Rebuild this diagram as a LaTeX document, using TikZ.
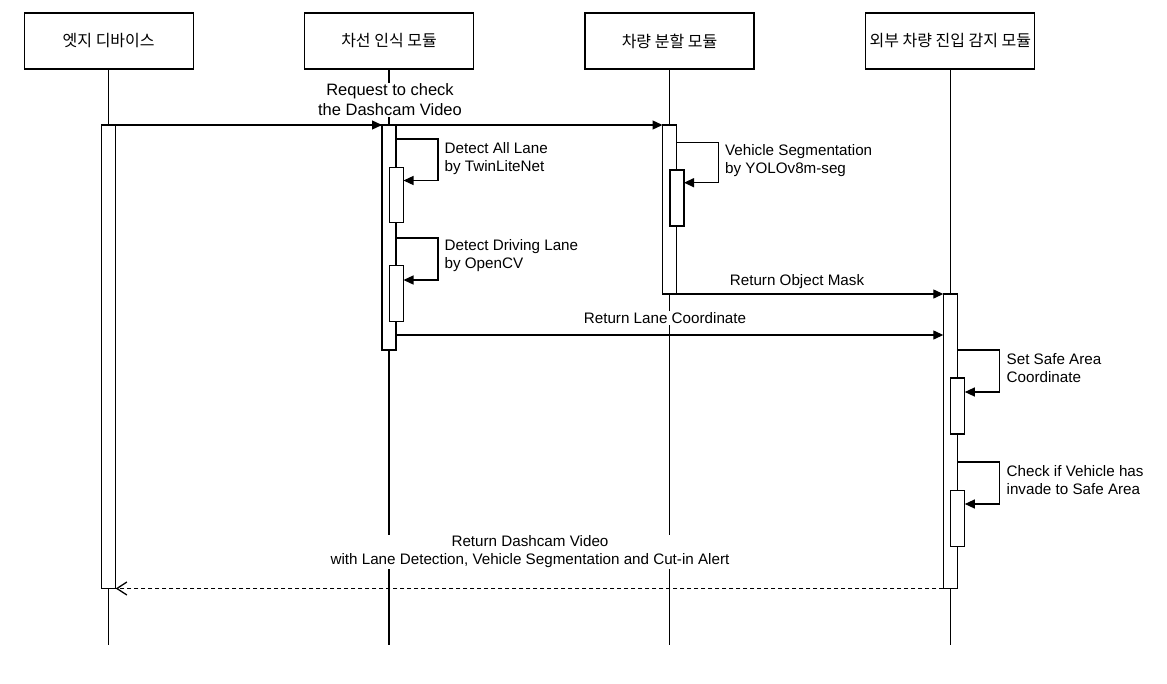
\documentclass[tikz,border=0pt]{standalone}
\usepackage{fontspec}
\setmainfont{Liberation Sans}
\newfontfamily\kor{Noto Sans CJK KR}
\usetikzlibrary{arrows.meta}

\begin{document}
\begin{tikzpicture}[%
	x=1pt, y=-1pt,
	line width=1.3pt,
	header/.style = {draw, rectangle, minimum width=169pt, minimum height=56pt, outer sep=0pt, font=\kor\fontsize{16}{19}\selectfont},
	act/.style = {draw, rectangle, fill=white, anchor=north, minimum width=14pt, inner sep=0pt, outer sep=0pt},
	msg/.style = {-{Triangle[length=10pt,width=9pt]}},
	reply/.style = {dash pattern=on 4pt off 3pt, -{Straight Barb[length=10pt,width=13pt]}},
	lbl/.style = {fill=white, inner sep=1pt, align=center, font=\fontsize{15.2}{18}\selectfont},
	note/.style = {anchor=west, inner sep=0pt, align=left, font=\fontsize{15.2}{18}\selectfont}
	]
  \useasboundingbox (0,0) rectangle (1167,683);
  % participants and lifelines
  \node[header] (edge) at (108.7,41) {엣지 디바이스};
  \node[header] (lane) at (389,41) {차선 인식 모듈};
  \node[header] (veh) at (669.5,41) {차량 분할 모듈};
  \node[header] (ext) at (950.3,41) {외부 차량 진입 감지 모듈};
  \coordinate (edgeEnd) at (108.7,645);
  \coordinate (laneEnd) at (389,645);
  \coordinate (vehEnd) at (669.5,645);
  \coordinate (extEnd) at (950.3,645);
  \draw (edge) -- (edgeEnd);
  \draw (lane) -- (laneEnd);
  \draw (veh) -- (vehEnd);
  \draw (ext) -- (extEnd);
  % activations
  \node[act, minimum height=463.5pt] (edgeAct) at (108.7,125) {};
  \node[act, minimum height=225pt] (laneAct) at (389,125) {};
  \node[act, minimum height=55pt] (laneIn1) at (396.5,167.7) {};
  \node[act, minimum height=56pt] (laneIn2) at (396.5,265.7) {};
  \node[act, minimum height=169pt] (vehAct) at (669.5,125) {};
  \node[act, minimum height=56pt] (vehIn) at (677,170) {};
  \node[act, minimum height=294.5pt] (extAct) at (950.3,294) {};
  \node[act, minimum height=56pt] (extIn1) at (957.8,378) {};
  \node[act, minimum height=56pt] (extIn2) at (957.8,490.5) {};
  % messages
  \draw[msg] (edgeAct.north east) -- (laneAct.north west);
  \draw[msg] (edgeAct.north east) -- (vehAct.north west);
  \node[lbl, font=\fontsize{16.5}{20}\selectfont] (reqLbl) at (390,100) {Request to check\\the Dashcam Video};
  \draw[msg] (laneAct.east |- 0,139) -- ++(42,0) |- (laneIn1.east |- 0,180.5);
  \node[note] (laneNote1) at (444,158.5) {Detect All Lane\\by TwinLiteNet};
  \draw[msg] (laneAct.east |- 0,238) -- ++(42,0) |- (laneIn2.east |- 0,280);
  \node[note] (laneNote2) at (444,256) {Detect Driving Lane\\by OpenCV};
  \draw[msg] (vehAct.east |- 0,142.3) -- ++(42,0) |- (vehIn.east |- 0,182.7);
  \node[note] (vehNote) at (724.5,160.5) {Vehicle Segmentation\\by YOLOv8m-seg};
  \draw[msg] (vehAct.south east) -- (extAct.north west);
  \node[lbl] (maskLbl) at (797,282) {Return Object Mask};
  \draw[msg] (laneAct.east |- 0,335) -- (extAct.west |- 0,335);
  \node[lbl] (coordLbl) at (665,318) {Return Lane Coordinate};
  \draw[msg] (extAct.east |- 0,350) -- ++(42,0) |- (extIn1.east |- 0,392);
  \node[note] (extNote1) at (1006,368) {Set Safe Area\\Coordinate};
  \draw[msg] (extAct.east |- 0,462) -- ++(42,0) |- (extIn2.east |- 0,504);
  \node[note] (extNote2) at (1006,480.5) {Check if Vehicle has\\invade to Safe Area};
  \draw[reply] (extAct.south west) -- (edgeAct.south east);
  \node[lbl] (retLbl) at (530,552) {Return Dashcam Video\\with Lane Detection, Vehicle Segmentation and Cut-in Alert};
\end{tikzpicture}
\end{document}
